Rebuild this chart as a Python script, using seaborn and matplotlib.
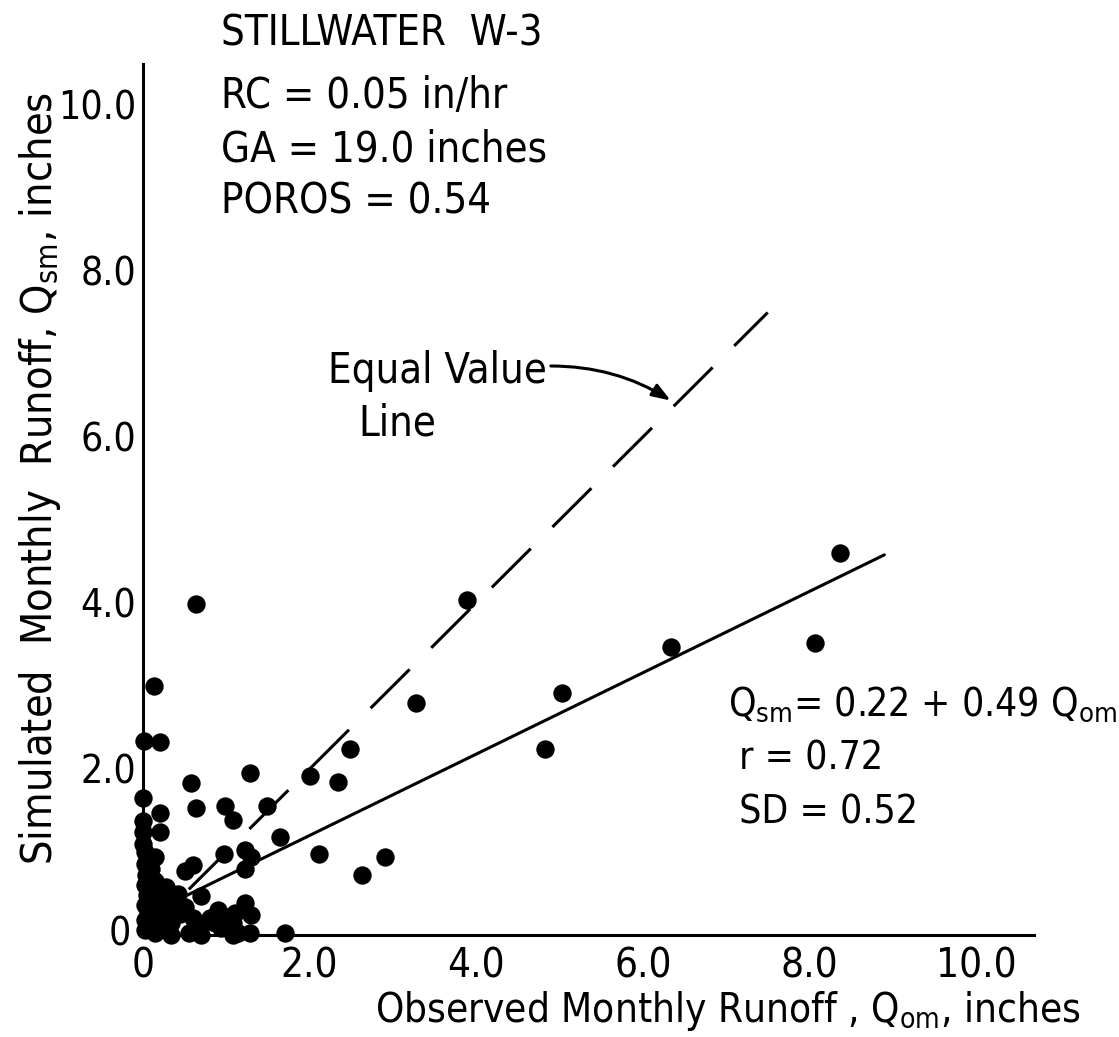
import matplotlib
matplotlib.use("Agg")
import matplotlib.pyplot as plt
import seaborn as sns
import pandas as pd

# ---------------- data ----------------
obs = [8.37, 8.07, 6.34, 5.03, 4.83, 3.89, 3.28, 2.49, 2.00, 2.34,
       1.64, 2.11, 2.91, 2.63, 1.70, 1.49, 1.28, 0.64, 0.13, 0.01,
       0.20, 0.58, 0.64, 0.98, 1.08, 0.00, 0.20, 0.20, 0.00, 0.00,
       0.00, 0.14, 0.50, 0.60, 0.97, 1.22, 1.30, 1.22, 0.28, 0.42,
       0.70, 0.50, 0.90, 1.10, 1.30, 1.22, 0.02, 0.34, 0.70, 0.86,
       1.08, 0.94, 0.14, 0.34, 1.14, 1.28, 1.08, 0.55, 0.70, 0.02,
       0.02, 0.04, 0.02, 0.05, 0.02, 0.06, 0.10, 0.12, 0.03, 0.20,
       0.22, 0.15, 0.08, 0.25, 0.45, 0.60, 0.40, 0.80, 1.00, 0.30,
       0.10, 0.35]
sim = [4.60, 3.52, 3.47, 2.92, 2.24, 4.04, 2.79, 2.24, 1.92, 1.84,
       1.18, 0.98, 0.94, 0.72, 0.02, 1.55, 1.95, 3.99, 3.00, 2.34,
       2.33, 1.83, 1.53, 1.55, 1.38, 1.65, 1.47, 1.24, 1.37, 1.24,
       1.10, 0.94, 0.77, 0.84, 0.97, 1.02, 0.94, 0.80, 0.58, 0.50,
       0.47, 0.34, 0.30, 0.26, 0.24, 0.38, 0.18, 0.14, 0.12, 0.14,
       0.14, 0.08, 0.02, 0.00, 0.02, 0.02, 0.00, 0.02, 0.00, 1.00,
       0.85, 0.72, 0.60, 0.48, 0.36, 0.26, 0.40, 0.12, 0.06, 0.30,
       0.45, 0.65, 0.52, 0.20, 0.25, 0.20, 0.38, 0.20, 0.22, 0.05,
       0.80, 0.30]

eq_x = [0.55, 7.50]
eq_y = [0.55, 7.50]
reg_x = [0.45, 8.90]
reg_y = [0.44, 4.58]

x_ticks = [0, 2, 4, 6, 8, 10]
x_tick_labels = ["", "2.0", "4.0", "6.0", "8.0", "10.0"]
y_ticks = [0, 2, 4, 6, 8, 10]
y_tick_labels = ["", "2.0", "4.0", "6.0", "8.0", "10.0"]
origin_label = "0"

title_lines = ["STILLWATER  W-3", "RC = 0.05 in/hr", "GA = 19.0 inches", "POROS = 0.54"]
stat_lines = [r"$\mathregular{Q_{sm}}$= 0.22 + 0.49 $\mathregular{Q_{om}}$", " r = 0.72", " SD = 0.52"]
eq_label = ["Equal Value", "Line"]
x_label = r"Observed Monthly Runoff , $\mathregular{Q_{om}}$, inches"
y_label = r"Simulated  Monthly  Runoff, $\mathregular{Q_{sm}}$, inches"

df = pd.DataFrame({"obs": obs, "sim": sim})

# ---------------- style ----------------
sns.set_style("white")
plt.rcParams["font.family"] = ["DejaVu Sans"]
plt.rcParams["font.stretch"] = "condensed"
plt.rcParams["text.color"] = "black"
plt.rcParams["xtick.color"] = "black"
plt.rcParams["ytick.color"] = "black"
plt.rcParams["axes.edgecolor"] = "black"

W, H = 1119, 1037
fig = plt.figure(figsize=(W / 100, H / 100), dpi=100)
fig.patch.set_facecolor("white")

x0, y0 = 143, 935
ppu_x, ppu_y = 83.3, 83.0
xmax, ymax = 10.7, 10.5
ax = fig.add_axes([x0 / W, (H - y0) / H, xmax * ppu_x / W, ymax * ppu_y / H])
ax.set_facecolor("white")

sns.scatterplot(data=df, x="obs", y="sim", ax=ax, s=175, color="black",
                edgecolor="black", linewidth=0, clip_on=False, zorder=3)

ax.plot(eq_x, eq_y, color="black", lw=2.2, linestyle=(0, (18, 10)),
        solid_capstyle="butt", dash_capstyle="butt", zorder=2)
ax.plot(reg_x, reg_y, color="black", lw=2.2, zorder=2)

ax.set_xlim(0, xmax)
ax.set_ylim(0, ymax)
for s in ["top", "right"]:
    ax.spines[s].set_visible(False)
for s in ["left", "bottom"]:
    ax.spines[s].set_linewidth(2.2)
    ax.spines[s].set_color("black")

ax.set_xticks(x_ticks)
ax.set_xticklabels(x_tick_labels, fontsize=29)
ax.set_yticks(y_ticks)
ax.set_yticklabels(y_tick_labels, fontsize=28)
ax.tick_params(axis="both", direction="in", length=18, width=2.2,
               color="black", labelcolor="black")
ax.tick_params(axis="x", pad=8)
ax.tick_params(axis="y", pad=5)
ax.set_xlabel("")
ax.set_ylabel("")
ax.grid(False)


def ftext(px, py, s, **kw):
    return fig.text(px / W, 1 - py / H, s, **kw)


# origin labels
ftext(131, 935, origin_label, fontsize=28, ha="right", va="center")
ftext(143, 946, origin_label, fontsize=29, ha="center", va="top")

# title block
for txt, base in zip(title_lines, [45, 108, 161, 213]):
    ftext(221, base, txt, fontsize=30, ha="left", va="baseline")

# regression statistics
for txt, base in zip(stat_lines, [716, 770, 823]):
    ftext(728, base, txt, fontsize=28, ha="left", va="baseline")

# equal value label
ftext(328, 383, eq_label[0], fontsize=30, ha="left", va="baseline")
ftext(358, 435, eq_label[1], fontsize=30, ha="left", va="baseline")

ax.annotate("", xy=(673, H - 402), xycoords="figure pixels",
            xytext=(548, H - 366), textcoords="figure pixels",
            arrowprops=dict(arrowstyle="-|>,head_length=1.1,head_width=0.4",
                            color="black", lw=2.2,
                            connectionstyle="arc3,rad=-0.15"))

# axis labels
ftext(375, 1022, x_label, fontsize=29, ha="left", va="baseline")
ftext(40, 478, y_label, fontsize=31, ha="center", va="center", rotation=90)

fig.savefig("out.png", dpi=100, facecolor="white")
